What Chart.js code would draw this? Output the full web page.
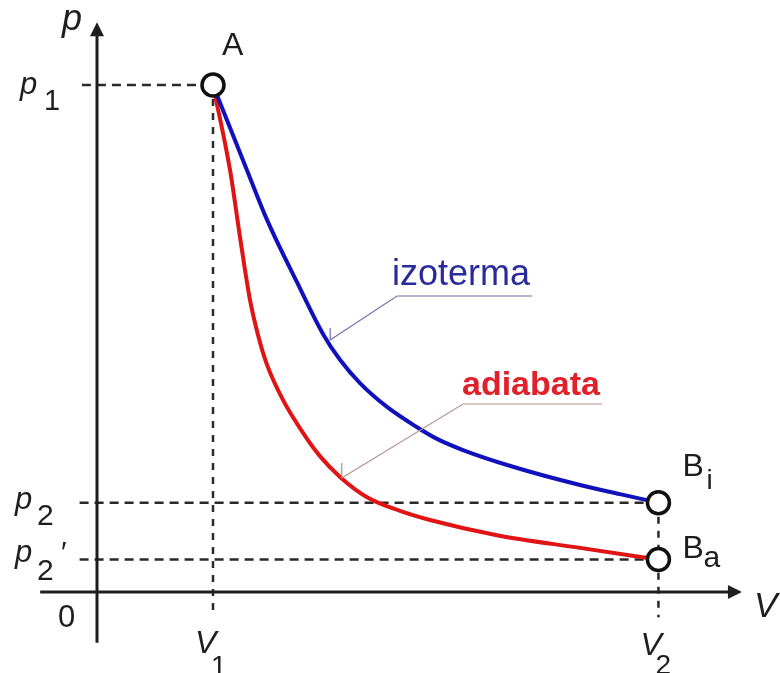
<!DOCTYPE html>
<html>
<head>
<title>Izoterma i adiabata</title>
<script src="https://cdn.jsdelivr.net/npm/chart.js"></script>
<style>
  html, body { margin: 0; padding: 0; background: #fff; }
  #wrap { width: 780px; height: 673px; position: relative; }
</style>
</head>
<body>
<div id="wrap"><canvas id="pv"></canvas></div>
<script>
// states, in arbitrary units (V1 = 1, p1 = 10)
const V1 = 1, V2 = 4.84;
const P1 = 10, P2 = 1.76, P2A = 0.64;

// isotherm A -> Bi
const isoV = [1, 1.293, 1.466, 1.724, 1.948, 2.095, 2.267, 2.50, 2.759, 2.931, 3.155, 3.586, 4.164, 4.509, 4.84];
const isoP = [10, 8.32, 7.34, 6.11, 5.09, 4.58, 4.12, 3.65, 3.25, 3.02, 2.80, 2.47, 2.11, 1.93, 1.76];

// adiabat A -> Ba
const adV = [1, 1.147, 1.233, 1.319, 1.388, 1.466, 1.603, 1.776, 1.922, 2.095, 2.328, 2.612, 2.871, 3.448, 4.164, 4.84];
const adP = [10, 8.32, 7.00, 5.76, 5.07, 4.48, 3.79, 3.14, 2.68, 2.27, 1.87, 1.60, 1.42, 1.12, 0.87, 0.64];

const toXY = (xs, ys) => xs.map((v, i) => ({ x: v, y: ys[i] }));

const FONT = '"Liberation Sans", Arial, "DejaVu Sans", sans-serif';
const INK = '#1e1e1e';

// axes, arrows, labels and leader lines
const drawing = {
  id: 'drawing',
  afterDatasetsDraw(chart) {
    const ctx = chart.ctx;
    const sx = chart.scales.x, sy = chart.scales.y;
    const X = v => sx.getPixelForValue(v);
    const Y = p => sy.getPixelForValue(p);
    const x0 = X(0), y0 = Y(0);

    ctx.save();
    ctx.strokeStyle = INK;
    ctx.fillStyle = INK;
    ctx.lineWidth = 3;

    // V axis
    const xEnd = X(5.56);
    ctx.beginPath();
    ctx.moveTo(X(-0.49), y0);
    ctx.lineTo(xEnd - 10, y0);
    ctx.stroke();
    ctx.beginPath();
    ctx.moveTo(xEnd, y0);
    ctx.lineTo(xEnd - 14, y0 - 7);
    ctx.lineTo(xEnd - 14, y0 + 7);
    ctx.closePath();
    ctx.fill();

    // p axis
    const yEnd = Y(11.24);
    ctx.beginPath();
    ctx.moveTo(x0, Y(-1.0));
    ctx.lineTo(x0, yEnd + 10);
    ctx.stroke();
    ctx.beginPath();
    ctx.moveTo(x0, yEnd);
    ctx.lineTo(x0 - 7, yEnd + 14);
    ctx.lineTo(x0 + 7, yEnd + 14);
    ctx.closePath();
    ctx.fill();

    // text labels
    const txt = (s, x, y, font, color) => {
      ctx.font = font;
      ctx.fillStyle = color || INK;
      ctx.fillText(s, x, y);
    };
    const it = sz => 'italic ' + sz + 'px ' + FONT;
    const rg = sz => sz + 'px ' + FONT;

    const xv1 = X(V1), xv2 = X(V2);
    const yp1 = Y(P1), yp2 = Y(P2), yp2a = Y(P2A);

    txt('p', x0 - 35, 30, it(36));
    txt('V', xEnd + 12, y0 + 25, it(35));
    txt('0', 58, y0 + 35, rg(31));

    txt('p', 20, yp1 + 9, it(31));
    txt('1', 44, yp1 + 25, rg(29));
    txt('p', 15, yp2 + 6, it(31));
    txt('2', 37, yp2 + 22, rg(30));
    txt('p', 15, yp2a + 2, it(31));
    txt('2', 37, yp2a + 20, rg(30));
    txt('\u2032', 61, yp2a + 2, rg(30));

    txt('V', xv1 - 18, y0 + 61, it(32));
    txt('1', xv1 - 2, y0 + 83, rg(28));
    txt('V', xv2 - 18, y0 + 63, it(32));
    txt('2', xv2 - 3, y0 + 82, rg(28));

    txt('A', xv1 + 9, yp1 - 30, rg(32));
    txt('B', xv2 + 24, yp2 - 27, rg(32));
    txt('i', xv2 + 48, yp2 - 14, rg(28));
    txt('B', xv2 + 24, yp2a - 2, rg(32));
    txt('a', xv2 + 45, yp2a + 7, rg(30));

    // curve names with leader lines
    ctx.lineWidth = 1.2;
    const isoTip = { x: X(2.01), y: Y(4.97) };
    ctx.strokeStyle = '#7070b0';
    ctx.beginPath();
    ctx.moveTo(532, 296);
    ctx.lineTo(397, 296);
    ctx.lineTo(isoTip.x, isoTip.y);
    ctx.moveTo(isoTip.x, isoTip.y);
    ctx.lineTo(isoTip.x, isoTip.y - 12);
    ctx.stroke();
    txt('izoterma', 392, 285, rg(36), '#2a2a9c');

    const adTip = { x: X(2.11), y: Y(2.25) };
    ctx.strokeStyle = '#b89090';
    ctx.beginPath();
    ctx.moveTo(602, 404);
    ctx.lineTo(463, 404);
    ctx.lineTo(adTip.x, adTip.y);
    ctx.moveTo(adTip.x, adTip.y);
    ctx.lineTo(adTip.x, adTip.y - 15);
    ctx.stroke();
    txt('adiabata', 462, 395, 'bold 34px ' + FONT, '#e0202a');

    ctx.restore();
  }
};

const guide = (pts, dash) => ({
  data: pts,
  showLine: true,
  borderColor: '#2a2a2a',
  borderWidth: 2.5,
  borderDash: dash,
  pointRadius: 0,
  order: 3
});

new Chart(document.getElementById('pv'), {
  type: 'scatter',
  data: {
    datasets: [
      {
        data: [{ x: V1, y: P1 }, { x: V2, y: P2 }, { x: V2, y: P2A }],
        pointRadius: 11,
        pointBorderWidth: 3.5,
        pointBorderColor: '#111',
        pointBackgroundColor: '#fff',
        order: 0
      },
      {
        data: toXY(isoV, isoP),
        showLine: true,
        borderColor: '#1010bc',
        borderWidth: 4,
        pointRadius: 0,
        cubicInterpolationMode: 'monotone',
        order: 1
      },
      {
        data: toXY(adV, adP),
        showLine: true,
        borderColor: '#e01414',
        borderWidth: 4,
        pointRadius: 0,
        cubicInterpolationMode: 'monotone',
        order: 2
      },
      guide([{ x: -0.13, y: P1 }, { x: V1, y: P1 }], [9, 6]),
      guide([{ x: -0.15, y: P2 }, { x: V2, y: P2 }], [9, 6]),
      guide([{ x: -0.15, y: P2A }, { x: V2, y: P2A }], [9, 6]),
      guide([{ x: V1, y: P1 }, { x: V1, y: -0.36 }], [7, 7]),
      guide([{ x: V2, y: P2 }, { x: V2, y: -0.5 }], [7, 7])
    ]
  },
  options: {
    responsive: true,
    maintainAspectRatio: false,
    animation: false,
    layout: { padding: 0, autoPadding: false },
    plugins: { legend: { display: false }, tooltip: { enabled: false } },
    scales: {
      x: { type: 'linear', display: false, min: -0.8362, max: 5.888 },
      y: { type: 'linear', display: false, min: -1.598, max: 11.677 }
    }
  },
  plugins: [drawing]
});
</script>
</body>
</html>
